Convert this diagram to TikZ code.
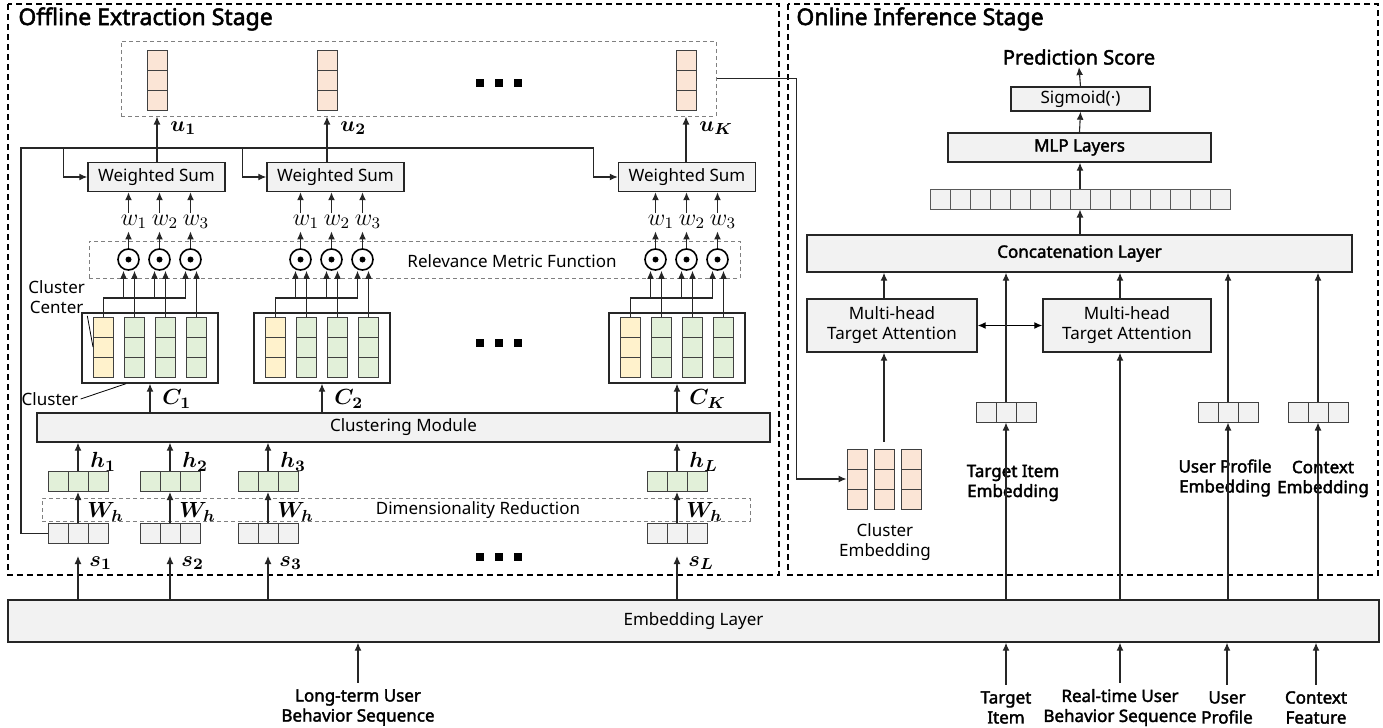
\documentclass[tikz,border=0pt]{standalone}
\usepackage{fontspec}
\setmainfont{Noto Sans}[AutoFakeBold=2.2]
\usepackage{amsmath,bm}
\usetikzlibrary{arrows.meta}
\definecolor{peach}{HTML}{FBE5D6}
\definecolor{paleyel}{HTML}{FFF2CC}
\definecolor{palegrn}{HTML}{E2F0D9}
\definecolor{boxgray}{HTML}{F2F2F2}
\definecolor{edgegray}{HTML}{404040}
\tikzset{
  arr/.style={-{Latex[length=4pt,width=3.4pt]},line width=0.55pt,draw=black!85},
  capa/.style={draw=black!85,fill=boxgray,line width=0.7pt,inner sep=0pt,align=center,font=\fontsize{8.5}{10}\selectfont},
  celda/.style={draw=edgegray,line width=0.5pt,minimum width=10pt,minimum height=10pt,inner sep=0pt},
  punteo/.style={draw=gray,dash pattern=on 2pt off 1.5pt,line width=0.5pt,inner sep=0pt},
  etapa/.style={draw=black,dash pattern=on 3pt off 2pt,line width=0.65pt},
  prod/.style={circle,draw=black,line width=0.8pt,minimum size=10.5pt,inner sep=0pt,
    path picture={\fill[black] (path picture bounding box.center) circle (1.5pt);}},
  txt/.style={font=\fontsize{8.5}{10}\selectfont,inner sep=1pt,align=center},
  negrita/.style={font=\bfseries\fontsize{8.5}{10}\selectfont},
  mlab/.style={font=\fontsize{11}{12}\selectfont,inner sep=0pt,anchor=west},
}
\begin{document}
\begin{tikzpicture}[x=0.5pt,y=-0.5pt]
\useasboundingbox (0,0) rectangle (1383,728);
\draw[etapa] (8,4) rectangle (779,575); %etapa offline
\draw[etapa] (788,4) rectangle (1378,575); %etapa online
\node[anchor=west,inner sep=0pt,font=\bfseries\fontsize{11.5}{13}\selectfont] (toff) at (18,19) {Offline Extraction Stage};
\node[anchor=west,inner sep=0pt,font=\bfseries\fontsize{11.5}{13}\selectfont] (ton) at (796,19) {Online Inference Stage};

% capa de embedding
\node[capa,minimum width=685.5pt,minimum height=21pt] (emb) at (693.5,621) {Embedding Layer};
\node[capa,minimum width=366.5pt,minimum height=14.5pt] (clu) at (403.5,427.5) {Clustering Module};
\node[punteo,minimum width=354pt,minimum height=11.5pt] (dim) at (396,509.5) {};
\node[txt] (tdim) at (478,510) {Dimensionality Reduction};

% secuencia s y vectores h
\foreach \n/\x in {1/78,2/170,3/268,L/677}{
  \foreach \i in {0,1,2}{
    \node[celda,fill=boxgray] (s\n-\i) at (\x-20+20*\i,533.5) {};
    \node[celda,fill=palegrn] (h\n-\i) at (\x-20+20*\i,481.5) {};
  }
  \node[mlab] (ls\n) at (\x+11,563) {$\bm{s_{\n}}$};
  \node[mlab] (lw\n) at (\x+9,512) {$\bm{W_h}$};
  \node[mlab] (lh\n) at (\x+12,462) {$\bm{h_{\n}}$};
  \draw[arr] (s\n-1 |- emb.north) -- ([yshift=-6pt]s\n-1.south);
  \draw[arr] (s\n-1.north) -- (h\n-1.south);
  \draw[arr] (h\n-1.north) -- (h\n-1 |- clu.south);
}

% cajas de clusters
\node[punteo,minimum width=325.5pt,minimum height=18.5pt] (rel) at (414.5,259.5) {};
\node[txt] (trel) at (512,261) {Relevance Metric Function};
\node[punteo,minimum width=297.5pt,minimum height=37.5pt] (ubox) at (418.5,78.5) {};
\foreach \k/\x/\wx/\ux in {1/150/156.5/157,2/322/335.5/327,K/677/687/686}{
  \node[draw=black!85,line width=0.7pt,minimum width=68pt,minimum height=35pt] (cb\k) at (\x,348) {};
  \foreach \j/\col in {0/paleyel,1/palegrn,2/palegrn,3/palegrn}
    \foreach \i in {0,1,2}
      \node[celda,fill=\col] (c\k-v\j-\i) at (\x-46.5+31*\j,327+20*\i) {};
  \node[capa,minimum width=68.5pt,minimum height=14.5pt] (ws\k) at (\wx,177) {Weighted Sum};
  \foreach \i in {0,1,2}
    \node[celda,fill=peach] (u\k-\i) at (\ux,60+20*\i) {};
  \node[mlab] (lu\k) at (\ux+13,128) {$\bm{u_{\k}}$};
  \node[mlab] (lc\k) at (\x+12,399) {$\bm{C_{\k}}$};
  \draw[arr] (cb\k |- clu.north) -- (cb\k.south);
  \draw[arr] (u\k-2 |- ws\k.north) -- (u\k-2 |- ubox.south);
  \foreach \m in {1,2,3}{
    \node[prod] (d\k-\m) at (\x-52.5+31*\m,259.5) {};
    \node[inner sep=0pt,minimum height=9pt,font=\fontsize{12}{13}\selectfont] (w\k-\m) at (\x-47+31*\m,222) {$w_{\m}$};
    \coordinate (e\k-\m) at (\x-57.5+31*\m,298);
    \draw[arr] (c\k-v\m-0.north) -- (c\k-v\m-0.north |- d\k-\m.south);
    \draw[arr] (e\k-\m) -- (e\k-\m |- d\k-\m.south);
    \draw[arr] (d\k-\m.north) -- (d\k-\m.north |- w\k-\m.south);
    \draw[arr] (d\k-\m.north |- w\k-\m.north) -- (d\k-\m.north |- ws\k.south);
  }
  \draw[line width=0.55pt,draw=black!85] (c\k-v0-0.north) |- (e\k-3);
}
\node[txt,anchor=north west] (tcc) at (26,278) {Cluster\\Center};
\draw[line width=0.4pt] (tcc.south east) -- (c1-v0-1.west);
\node[txt] (tcl) at (50,399) {Cluster};
\draw[line width=0.4pt] (tcl.east) -- ([xshift=-12pt]cb1.south);

% lazo de s1 a las sumas
\coordinate (lp) at (21,148);
\draw[arr] (s1-0.west) -| (lp) -| ([xshift=-12pt]wsK.west) -- (wsK.west);
\draw[arr] ([xshift=-12pt]ws1.west |- lp) |- (ws1.west);
\draw[arr] ([xshift=-12pt]ws2.west |- lp) |- (ws2.west);

% puntos suspensivos
\foreach \y in {83,343,557}
  \foreach \d in {0,1,2}
    \fill (480+19*\d,\y) +(-4,-4) rectangle +(4,4);

% etapa online
\node[font=\bfseries\fontsize{10}{11}\selectfont,inner sep=1pt] (pred) at (1079,57) {Prediction Score};
\node[capa,minimum width=69.5pt,minimum height=12pt] (sig) at (1080.5,99) {Sigmoid(·)};
\node[capa,negrita,minimum width=131.5pt,minimum height=14.5pt] (mlp) at (1079.5,147.5) {MLP Layers};
\foreach \i in {0,...,14}
  \node[celda,fill=boxgray,draw=gray!70!black] (cv\i) at (940+20*\i,199) {};
\node[capa,negrita,minimum width=272.5pt,minimum height=18.5pt] (cat) at (1079.5,253.5) {Concatenation Layer};
\node[capa,minimum width=85pt,minimum height=26.5pt] (mh1) at (892,325.5) {Multi-head\\Target Attention};
\node[capa,minimum width=84pt,minimum height=26.5pt] (mh2) at (1127,325.5) {Multi-head\\Target Attention};
\foreach \f/\x in {ti/1006,up/1228,cx/1318}
  \foreach \i in {0,1,2}
    \node[celda,fill=boxgray] (\f-\i) at (\x-20+20*\i,412) {};
\foreach \j/\x in {0/857,1/884,2/911}
  \foreach \i in {0,1,2}
    \node[celda,fill=peach] (ce\j-\i) at (\x,459+20*\i) {};
\node[txt] (tce) at (885,542) {Cluster\\Embedding};
\node[txt,negrita] (tti) at (1013,483) {Target Item\\Embedding};
\node[txt,negrita] (tup) at (1225,478) {User Profile\\Embedding};
\node[txt,negrita] (tcx) at (1323,479) {Context\\Embedding};

% entradas
\node[txt,negrita,inner sep=3pt] (llt) at (358,707.5) {Long-term User\\Behavior Sequence};
\node[txt,negrita,inner sep=3pt] (lti) at (1006,707.5) {Target\\Item};
\node[txt,negrita,inner sep=3pt] (lrt) at (1120,707.5) {Real-time User\\Behavior Sequence};
\node[txt,negrita,inner sep=3pt] (lup) at (1227,707.5) {User\\Profile};
\node[txt,negrita,inner sep=3pt] (lcx) at (1316,707.5) {Context\\Feature};
\foreach \l in {llt,lti,lrt,lup,lcx}
  \draw[arr] (\l.north) -- (\l |- emb.south);

% conexiones online
\draw[arr] (sig.north) -- (pred.south);
\draw[arr] (mlp.north) -- (sig.south);
\draw[arr] (cv7.north) -- (cv7 |- mlp.south);
\draw[arr] (cv7 |- cat.north) -- (cv7.south);
\draw[{Latex[length=4pt,width=3.4pt]}-{Latex[length=4pt,width=3.4pt]},line width=0.55pt] (mh1.east) -- (mh2.west);
\draw[arr] (ce1-0 |- mh1.north) -- (ce1-0 |- cat.south);
\draw[arr] ([yshift=3.5pt]ce1-0.north) -- (ce1-0 |- mh1.south);
\draw[arr] (lrt |- mh2.north) -- (lrt |- cat.south);
\draw[arr] (lrt |- emb.north) -- (lrt |- mh2.south);
\foreach \f in {ti,up,cx}{
  \draw[arr] (\f-1.north) -- (\f-1 |- cat.south);
  \draw[arr] (\f-1 |- emb.north) -- (\f-1.south);
}
\draw[arr] (ubox.east) -| ([xshift=-25pt]ce0-1.west) -- (ce0-1.west); %de u a cluster embedding
\end{tikzpicture}
\end{document}
